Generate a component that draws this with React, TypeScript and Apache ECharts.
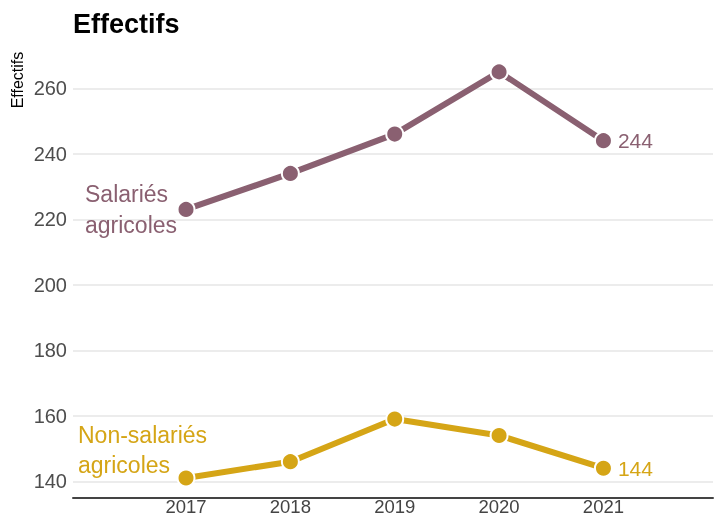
import React, { useEffect, useRef } from "react";
import * as echarts from "echarts";

const years = [2017, 2018, 2019, 2020, 2021];
const salaries = [223, 234, 246, 265, 244];
const nonSalaries = [141, 146, 159, 154, 144];
const yTicks = [140, 160, 180, 200, 220, 240, 260];
const salariesName = "Salariés\nagricoles";
const nonSalariesName = "Non-salariés\nagricoles";

const PURPLE = "#8a6071";
const GOLD = "#d5a516";
const FONT = "'Liberation Sans', Arial, Helvetica, sans-serif";

function buildData(values: number[], name: string, color: string, startPos: number[]) {
  return values.map((v, i) => {
    const item: any = { value: [years[i], v] };
    if (i === 0) {
      item.label = {
        show: true,
        position: startPos,
        align: "left",
        verticalAlign: "top",
        formatter: name,
        color,
        fontSize: 23,
        lineHeight: 30.5,
        fontFamily: FONT,
      };
    } else if (i === values.length - 1) {
      item.label = {
        show: true,
        position: "right",
        distance: 5,
        formatter: String(v),
        color,
        fontSize: 21,
        fontFamily: FONT,
      };
    }
    return item;
  });
}

export default function App() {
  const ref = useRef<HTMLDivElement>(null);
  useEffect(() => {
    if (!ref.current) return;
    const chart = echarts.init(ref.current, null, { renderer: "svg" });
    const lineSeries = (name: string, values: number[], label: string, color: string, pos: number[]) => ({
      type: "line",
      name,
      data: buildData(values, label, color, pos),
      symbol: "circle",
      symbolSize: 17,
      lineStyle: { color, width: 6 },
      itemStyle: { color, borderColor: "#ffffff", borderWidth: 2 },
      label: { show: false },
      emphasis: { disabled: true },
    });
    chart.setOption({
      animation: false,
      grid: {
        left: 73,
        right: 1,
        top: 55.5,
        bottom: 19.3,
        containLabel: false,
        outerBoundsMode: "none",
      },
      xAxis: {
        type: "value",
        min: 2015.917,
        max: 2022.05,
        axisLine: { show: true, lineStyle: { color: "#444444", width: 2 } },
        axisTick: { show: false, customValues: years },
        splitLine: { show: false },
        axisLabel: {
          customValues: years,
          formatter: (v: number) => String(v),
          color: "#444444",
          fontSize: 18.5,
          lineHeight: 15,
          fontFamily: FONT,
          margin: 1.5,
        },
      },
      yAxis: {
        type: "value",
        min: 135,
        max: 270,
        axisLine: { show: false },
        axisTick: { show: false, customValues: yTicks },
        splitLine: { show: true, lineStyle: { color: "#e6e6e6", width: 1.5 } },
        axisLabel: {
          customValues: yTicks,
          color: "#4d4d4d",
          fontSize: 20,
          fontFamily: FONT,
          margin: 6,
        },
      },
      graphic: [
        {
          type: "text",
          x: 73,
          y: 24,
          style: {
            text: "Effectifs",
            fontSize: 27,
            fontWeight: "bold",
            fontFamily: FONT,
            fill: "#000000",
            align: "left",
            verticalAlign: "middle",
          },
        },
        {
          type: "text",
          x: 17.3,
          y: 80,
          rotation: Math.PI / 2,
          style: {
            text: "Effectifs",
            fontSize: 16,
            fontFamily: FONT,
            fill: "#000000",
            align: "center",
            verticalAlign: "middle",
          },
        },
      ],
      series: [
        lineSeries("Salariés agricoles", salaries, salariesName, PURPLE, [-91.5, -21]),
        lineSeries("Non-salariés agricoles", nonSalaries, nonSalariesName, GOLD, [-98.5, -49]),
      ],
    });
    return () => chart.dispose();
  }, []);
  return <div ref={ref} style={{ width: 714, height: 517, position: "fixed", left: 0, top: 0 }} />;
}
